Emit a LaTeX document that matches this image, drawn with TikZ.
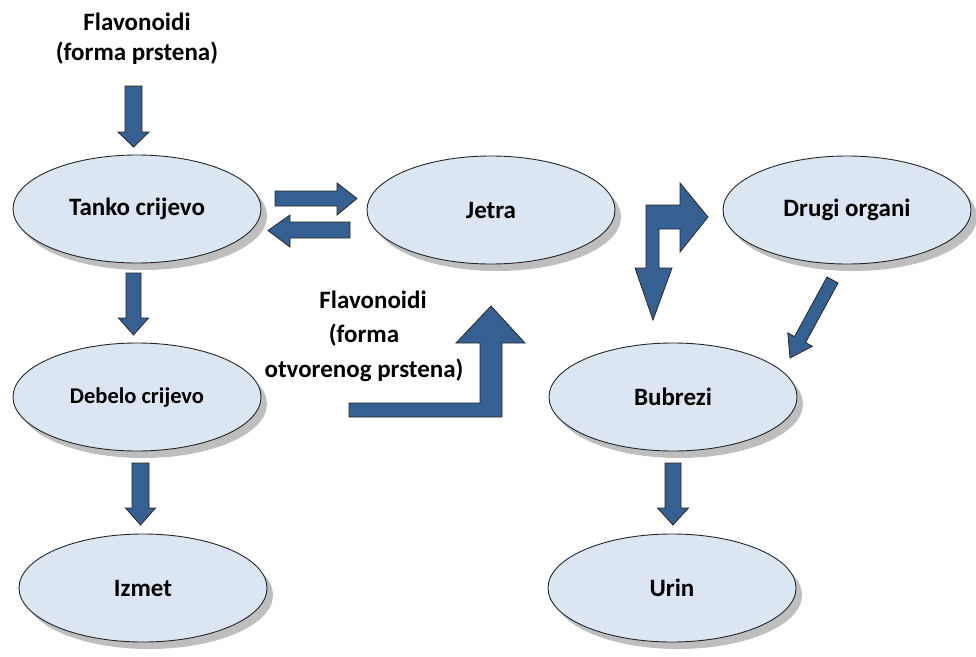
\documentclass[tikz,border=0pt]{standalone}
\usepackage{fontspec}
\setmainfont{Carlito}
\usetikzlibrary{shapes.geometric,shadows,calc}
\definecolor{ellfill}{RGB}{220,230,242}
\definecolor{arrfill}{RGB}{55,96,146}
\definecolor{shadowgray}{RGB}{190,190,190}
\tikzset{
  organ/.style={ellipse, draw=black!85, line width=0.9pt, fill=ellfill,
    minimum width=248pt, minimum height=108pt, inner sep=0pt,
    font=\fontsize{25}{29}\selectfont\bfseries,
    drop shadow={shadow xshift=6pt, shadow yshift=-7pt, fill=shadowgray, opacity=1}},
  lbl/.style={align=center, inner sep=0pt, font=\fontsize{25}{30}\selectfont\bfseries},
  blockarr/.style={fill=arrfill, draw=black!85, line width=0.8pt, line join=miter}
}
\newcommand\vdownarr[6]{%
  \draw[blockarr] (#1-#5,#2) -- (#1+#5,#2) -- (#1+#5,#3) -- (#1+#6,#3) -- (#1,#4)
    -- (#1-#6,#3) -- (#1-#5,#3) -- cycle;}
\begin{document}
\begin{tikzpicture}[x=1pt,y=-1pt]
\useasboundingbox (0,0) rectangle (976,656);

% ellipses
\node[organ] (tanko) at (137,209) {Tanko crijevo};
\node[organ] (jetra) at (491,210) {Jetra};
\node[organ] (drugi) at (847,210) {Drugi organi};
\node[organ, font=\fontsize{22.5}{26}\selectfont\bfseries] (debelo) at (137,397) {Debelo crijevo};
\node[organ] (bubrezi) at (673,397) {Bubrezi};
\node[organ] (izmet) at (143,588) {Izmet};
\node[organ] (urin) at (672,588) {Urin};

% labels
\node[lbl, anchor=base] (flav1) at (137,60) {Flavonoidi\\(forma prstena)};
\node[lbl, anchor=base, font=\fontsize{25}{34.5}\selectfont\bfseries] (flav2) at (364,377)
  {\hspace*{18pt}Flavonoidi\\(forma\\otvorenog prstena)};

% straight vertical arrows
\vdownarr{133.5}{86}{132}{147}{8.5}{15.5}
\vdownarr{133.5}{273}{318}{335}{7.5}{15}
\vdownarr{140.5}{463}{508}{525}{8.5}{15}
\vdownarr{673}{463}{508}{525}{8}{15.5}

% horizontal arrows between Tanko crijevo and Jetra
\draw[blockarr] (275,191) -- (337,191) -- (337,183) -- (357,198.5) -- (337,215)
  -- (337,206) -- (275,206) -- cycle;
\draw[blockarr] (350,222) -- (290,222) -- (290,215) -- (268,230.5) -- (290,247)
  -- (290,238) -- (350,238) -- cycle;

% bent arrow Jetra -> Drugi organi / Bubrezi
\draw[blockarr] (646,205) -- (680,205) -- (680,183) -- (708,217) -- (680,252)
  -- (680,229) -- (659,229) -- (659,268) -- (672,268) -- (653,320) -- (635,268)
  -- (646,268) -- cycle;

% bent up arrow to Jetra
\draw[blockarr] (349,403) -- (480,403) -- (480,343) -- (456,343) -- (491,306)
  -- (525,343) -- (502,343) -- (502,417) -- (349,417) -- cycle;

% diagonal arrow Drugi organi -> Bubrezi
\coordinate (dA) at (832.5,280);
\coordinate (dB) at (790,358);
\coordinate (dH) at ($(dB)!21pt!(dA)$);
\draw[blockarr] ($(dA)!6.3pt!90:(dB)$) -- ($(dH)!6.3pt!-90:(dA)$) -- ($(dH)!14pt!-90:(dA)$)
  -- (dB) -- ($(dH)!14pt!90:(dA)$) -- ($(dH)!6.3pt!90:(dA)$) -- ($(dA)!6.3pt!-90:(dB)$) -- cycle;
\end{tikzpicture}
\end{document}
